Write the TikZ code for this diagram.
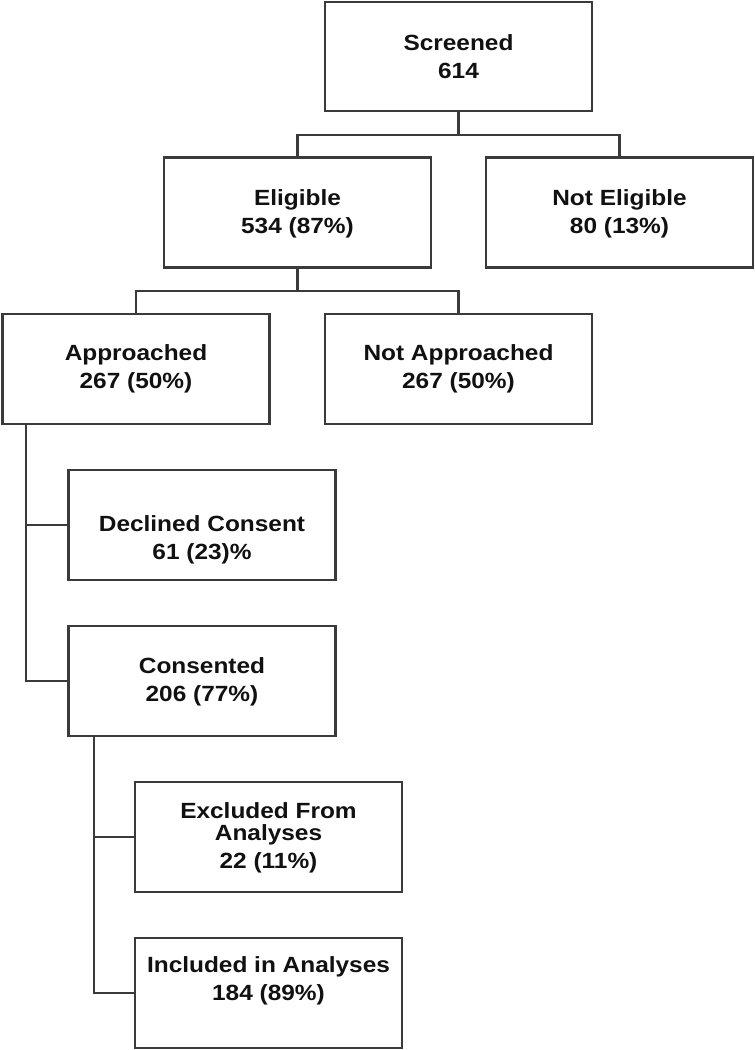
\documentclass[tikz,border=0pt]{standalone}
\usepackage{fontspec}
\newfontfamily\boxfont{Liberation Sans}[FakeStretch=1.11]
\usetikzlibrary{calc}
\definecolor{linegray}{HTML}{3A3A3A}
\definecolor{txt}{HTML}{111111}
\begin{document}
\begin{tikzpicture}[x=1pt,y=-1pt,
  box/.style={draw=linegray, line width=2.5pt, minimum width=267pt, minimum height=110pt, inner sep=0pt},
  lbl/.style={align=center, text=txt, font={\boxfont\bfseries\fontsize{22}{28}\selectfont}, inner sep=0pt},
  conn/.style={draw=linegray, line width=2.4pt}]
\useasboundingbox (0,0) rectangle (755,1050);
% boxes
\node[box, minimum height=109pt] (scr) at (458.5,56.5) {};
\node[box] (elig) at (297.5,212.5) {};
\node[box] (nel) at (619.5,212.5) {};
\node[box] (appr) at (136,369) {};
\node[box] (napp) at (458.5,369) {};
\node[box] (decl) at (202,525) {};
\node[box] (cons) at (202,681) {};
\node[box] (excl) at (268.5,837) {};
\node[box] (incl) at (268.5,993) {};
% texts
\node[lbl] (tscr) at (458.5,57) {Screened\\614};
\node[lbl] (telig) at (297.5,213.5) {Eligible\\534 (87\%)};
\node[lbl] (tnel) at (619.5,213.5) {Not Eligible\\80 (13\%)};
\node[lbl] (tappr) at (136,369) {Approached\\267 (50\%)};
\node[lbl] (tnapp) at (458.5,369) {Not Approached\\267 (50\%)};
\node[lbl] (tdecl) at (202,539.5) {Declined Consent\\61 (23)\%};
\node[lbl] (tcons) at (202,682) {Consented\\206 (77\%)};
\node[lbl] (texcl) at (268.5,838) {Excluded From\\[-6pt]Analyses\\22 (11\%)};
\node[lbl] (tincl) at (268.5,981) {Included in Analyses\\184 (89\%)};
% connectors
\draw[conn] (scr.south) -- ++(0,23) coordinate (j1);
\draw[conn] (elig.north) |- (j1) -| (nel.north);
\draw[conn] (elig.south) -- ++(0,22) coordinate (j2);
\draw[conn] (appr.north) |- (j2) -| (napp.north);
\coordinate (a1) at ($(appr.south west)+(25,0)$);
\draw[conn] (a1) |- (decl.west);
\draw[conn] (a1) |- (cons.west);
\coordinate (c1) at ($(cons.south west)+(27,0)$);
\draw[conn] (c1) |- (excl.west);
\draw[conn] (c1) |- (incl.west);
\end{tikzpicture}
\end{document}
